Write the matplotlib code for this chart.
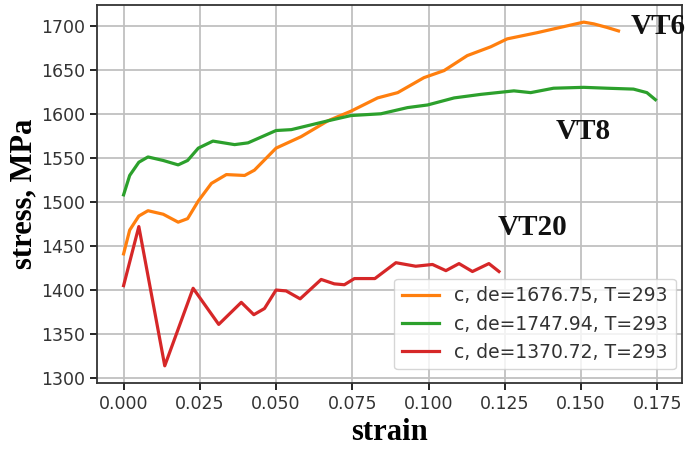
import matplotlib
matplotlib.use("Agg")
import matplotlib.pyplot as plt

# VT6 (orange)
vt6_strain = [0.0, 0.002, 0.005, 0.008, 0.013, 0.0179, 0.021, 0.0245, 0.0288, 0.0337, 0.0397, 0.0429,
              0.05, 0.0582, 0.067, 0.0746, 0.0833, 0.0899, 0.0985, 0.1051, 0.1127, 0.1204,
              0.1258, 0.1356, 0.1432, 0.1509, 0.1542, 0.1585, 0.1623]
vt6_stress = [1441, 1468, 1484, 1490, 1486, 1477, 1481, 1501, 1521, 1531, 1530, 1536,
              1561, 1574, 1592, 1603, 1618, 1624, 1641, 1649, 1666, 1676,
              1685, 1692, 1698, 1704, 1702, 1698, 1694]

# VT8 (green)
vt8_strain = [0.0, 0.002, 0.005, 0.008, 0.013, 0.0179, 0.021, 0.0245, 0.0293, 0.0364, 0.0408, 0.05,
              0.055, 0.067, 0.0746, 0.0844, 0.0931, 0.0997, 0.1084, 0.1171, 0.128, 0.1335,
              0.141, 0.1509, 0.1585, 0.1672, 0.1716, 0.1744]
vt8_stress = [1508, 1530, 1545, 1551, 1547, 1542, 1547, 1561, 1569, 1565, 1567, 1581,
              1582, 1592, 1598, 1600, 1607, 1610, 1618, 1622, 1626, 1624,
              1629, 1630, 1629, 1628, 1624, 1616]

# VT20 (red)
vt20_strain = [0.0, 0.005, 0.0135, 0.0228, 0.0312, 0.0386, 0.0427, 0.0462, 0.05, 0.0533, 0.0579,
               0.0648, 0.0691, 0.0724, 0.0757, 0.0824, 0.0893, 0.0958, 0.1013, 0.1057, 0.11,
               0.1144, 0.1198, 0.1231]
vt20_stress = [1405, 1472, 1314, 1402, 1361, 1386, 1372, 1379, 1400, 1399, 1390,
               1412, 1407, 1406, 1413, 1413, 1431, 1427, 1429, 1422, 1430,
               1421, 1430, 1421]

labels = ["c, de=1676.75, T=293", "c, de=1747.94, T=293", "c, de=1370.72, T=293"]
xticks = [0.000, 0.025, 0.050, 0.075, 0.100, 0.125, 0.150, 0.175]
yticks = [1300, 1350, 1400, 1450, 1500, 1550, 1600, 1650, 1700]

fig = plt.figure(figsize=(6.85, 4.49), dpi=100)
ax = fig.add_axes([0.1416, 0.147, 0.854, 0.842])

lw = 2.3
ax.plot(vt6_strain, vt6_stress, color="#ff7f0e", lw=lw, label=labels[0])
ax.plot(vt8_strain, vt8_stress, color="#2ca02c", lw=lw, label=labels[1])
ax.plot(vt20_strain, vt20_stress, color="#d62728", lw=lw, label=labels[2])

ax.set_xticks(xticks)
ax.set_xticklabels([f"{t:.3f}" for t in xticks])
ax.set_yticks(yticks)
ax.tick_params(labelsize=12.5, labelcolor="#333333", length=5, width=1.2)
ax.grid(True, color="#c0c0c0", lw=1.3)
ax.set_axisbelow(True)
for s in ax.spines.values():
    s.set_linewidth(1.3)
    s.set_color("#333333")

serif = ["Liberation Serif", "DejaVu Serif"]
ax.set_xlabel("strain", fontsize=22, fontweight="bold", family=serif, labelpad=4)
ax.set_ylabel("stress, MPa", fontsize=22, fontweight="bold", family=serif, labelpad=2)

txt_kw = dict(fontsize=21, fontweight="bold", family=serif, ha="left", va="baseline",
              clip_on=False, color="#111111")
ax.text(0.1662, 1691, "VT6", **txt_kw)
ax.text(0.1416, 1571, "VT8", **txt_kw)
ax.text(0.1226, 1462, "VT20", **txt_kw)

ax.legend(loc="lower right", fontsize=13.5, handlelength=2.0, framealpha=0.8,
          labelcolor="#333333", bbox_to_anchor=(1.005, 0.011))

fig.savefig("out.png", dpi=100)
